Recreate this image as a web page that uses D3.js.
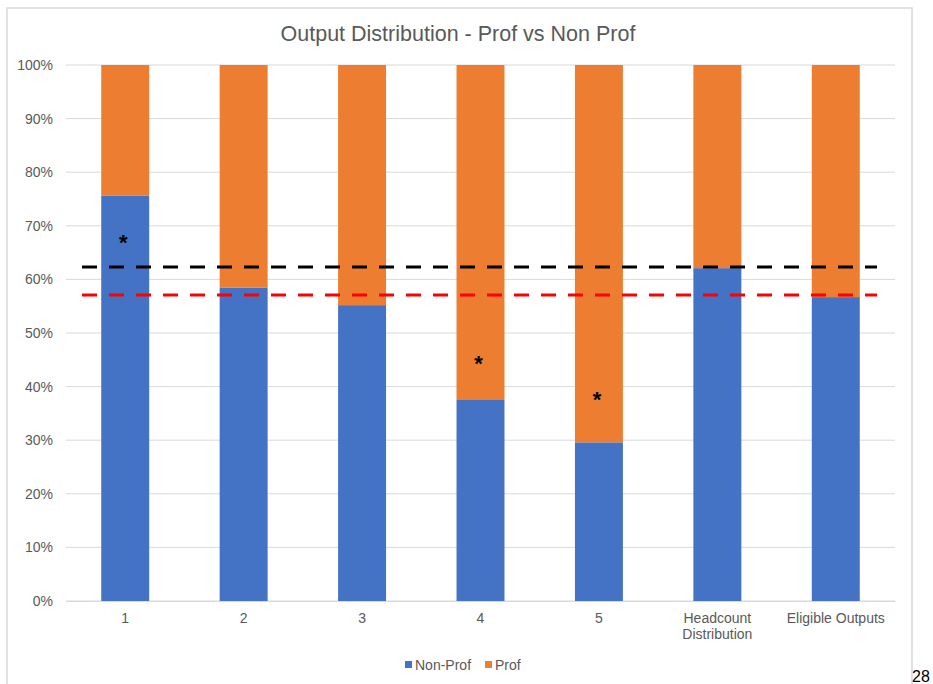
<!DOCTYPE html>
<html>
<head>
<meta charset="utf-8">
<script src="https://cdn.jsdelivr.net/npm/d3@7"></script>
<style>
  html, body { margin: 0; padding: 0; background: #fff; }
  svg { display: block; }
  text { font-family: "Liberation Sans", Arial, sans-serif; }
</style>
</head>
<body>
<svg id="chart" width="933" height="684"></svg>
<script>
// ---- data ----
const categories = ["1", "2", "3", "4", "5", "Headcount Distribution", "Eligible Outputs"];
const nonProf = [0.756, 0.585, 0.552, 0.375, 0.296, 0.621, 0.567];
const prof = nonProf.map(v => 1 - v);
const seriesNames = ["Non-Prof", "Prof"];
const colors = ["#4472C4", "#ED7D31"];
const yTicks = [0, 0.1, 0.2, 0.3, 0.4, 0.5, 0.6, 0.7, 0.8, 0.9, 1.0];
const refLines = [
  { value: 0.623, color: "#000000" },
  { value: 0.571, color: "#FF0000" }
];
const asterisks = [
  { cat: "1", value: 0.676 },
  { cat: "4", value: 0.45 },
  { cat: "5", value: 0.383 }
];
const title = "Output Distribution - Prof vs Non Prof";
const pageNumber = "28";

// ---- layout ----
const svg = d3.select("#chart");
const plot = { left: 66, right: 895, top: 65, bottom: 601 };

// chart frame
svg.append("rect")
  .attr("x", 7).attr("y", 8)
  .attr("width", 905).attr("height", 700)
  .attr("fill", "none").attr("stroke", "#d9d9d9").attr("stroke-width", 1.5);

const x = d3.scaleBand().domain(categories).range([plot.left, plot.right]).paddingInner(0.595).paddingOuter(0.2975);
const y = d3.scaleLinear().domain([0, 1]).range([plot.bottom, plot.top]);

// gridlines
svg.append("g").selectAll("line").data(yTicks).join("line")
  .attr("x1", plot.left).attr("x2", plot.right)
  .attr("y1", d => y(d)).attr("y2", d => y(d))
  .attr("stroke", "#d9d9d9").attr("stroke-width", 1);

// y axis labels
const yAxis = d3.axisLeft(y).tickValues(yTicks).tickFormat(d3.format(".0%")).tickSize(0).tickPadding(13);
const yg = svg.append("g").attr("transform", `translate(${plot.left},0)`).call(yAxis);
yg.select(".domain").remove();
yg.selectAll("text").attr("fill", "#595959").style("font-size", "14px")
  .style("font-family", "'Liberation Sans', Arial, sans-serif");

// stacked bars
const rows = categories.map((c, i) => ({ cat: c, "Non-Prof": nonProf[i], "Prof": prof[i] }));
const stack = d3.stack().keys(seriesNames)(rows);
svg.append("g").selectAll("g").data(stack).join("g")
  .attr("fill", (d, i) => colors[i])
  .selectAll("rect").data(d => d).join("rect")
  .attr("x", d => x(d.data.cat))
  .attr("width", x.bandwidth())
  .attr("y", d => y(d[1]))
  .attr("height", d => y(d[0]) - y(d[1]));

// x axis
const xAxis = d3.axisBottom(x).tickSize(0).tickPadding(12);
const xg = svg.append("g").attr("transform", `translate(0,${plot.bottom})`).call(xAxis);
xg.select(".domain").attr("stroke", "#d9d9d9");
xg.selectAll("text").attr("fill", "#595959").style("font-size", "14px")
  .style("font-family", "'Liberation Sans', Arial, sans-serif")
  .each(function(d) {
    const t = d3.select(this);
    if (d === "Headcount Distribution") {
      t.text(null);
      t.append("tspan").attr("x", 0).attr("dy", "0.71em").text("Headcount");
      t.append("tspan").attr("x", 0).attr("dy", "1.15em").text("Distribution");
      t.attr("dy", null);
    }
  });

// reference dashed lines
svg.append("g").selectAll("line").data(refLines).join("line")
  .attr("x1", plot.left + 16).attr("x2", plot.right - 18)
  .attr("y1", d => y(d.value)).attr("y2", d => y(d.value))
  .attr("stroke", d => d.color).attr("stroke-width", 3)
  .attr("stroke-dasharray", "15,12");

// asterisks
svg.append("g").selectAll("text").data(asterisks).join("text")
  .attr("x", d => x(d.cat) + x.bandwidth() / 2 - 2)
  .attr("y", d => y(d.value) + 11)
  .attr("text-anchor", "middle")
  .attr("fill", "#000")
  .style("font-size", "22px")
  .style("font-weight", "bold")
  .text("*");

// title
svg.append("text")
  .attr("x", 458).attr("y", 41)
  .attr("text-anchor", "middle")
  .attr("fill", "#595959")
  .style("font-size", "21.5px")
  .text(title);

// legend
const legend = svg.append("g").attr("transform", "translate(405,665)");
const legendItems = [
  { name: seriesNames[0], color: colors[0], x: 0 },
  { name: seriesNames[1], color: colors[1], x: 80 }
];
const li = legend.selectAll("g").data(legendItems).join("g")
  .attr("transform", d => `translate(${d.x},0)`);
li.append("rect").attr("x", 0).attr("y", -4).attr("width", 7).attr("height", 7).attr("fill", d => d.color);
li.append("text").attr("x", 10).attr("y", 5).attr("fill", "#595959")
  .style("font-size", "14px").text(d => d.name);

// page number
svg.append("text")
  .attr("x", 912).attr("y", 682)
  .attr("fill", "#000")
  .style("font-size", "16px")
  .text(pageNumber);
</script>
</body>
</html>
